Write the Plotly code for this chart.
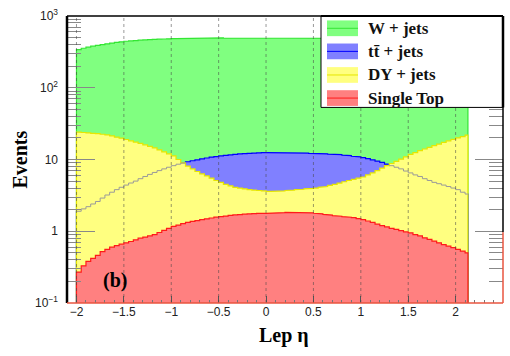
import plotly.graph_objects as go

# ---------------- data ----------------
eta_edges = [round(-2.0 + 0.05 * i, 3) for i in range(83)] + [2.13]

w_jets = [340, 355, 368, 380, 390, 400, 410, 420, 428, 437, 445, 450, 455, 460,
          464, 468, 472, 475, 478, 481, 484, 486, 488, 489, 490, 491, 492, 494,
          494, 493, 496, 494, 495, 497, 496, 495, 497, 496, 494, 496, 497, 495,
          498, 496, 494, 496, 497, 495, 494, 496, 495, 494, 493, 492, 491, 490,
          489, 487, 486, 484, 482, 479, 476, 473, 470, 466, 462, 457, 452, 447,
          442, 434, 426, 417, 408, 398, 388, 378, 368, 356, 345, 337, 330]
ttbar = [1.9, 2.05, 2.2, 2.4, 2.6, 2.9, 3.2, 3.5, 3.8, 4.1, 4.4, 4.7, 5.0, 5.4,
         5.8, 6.2, 6.6, 7.0, 7.4, 7.8, 8.2, 8.6, 8.9, 9.3, 9.6, 9.9, 10.2, 10.5,
         10.8, 11.0, 11.2, 11.4, 11.6, 11.8, 12.0, 12.1, 12.2, 12.3, 12.4, 12.5,
         12.5, 12.6, 12.6, 12.5, 12.5, 12.4, 12.4, 12.3, 12.3, 12.2, 12.2, 12.1,
         12.0, 11.9, 11.8, 11.7, 11.5, 11.3, 11.1, 10.9, 10.6, 10.3, 9.9, 9.5,
         9.1, 8.6, 8.2, 7.8, 7.4, 6.9, 6.5, 6.1, 5.8, 5.4, 5.1, 4.8, 4.6, 4.4,
         4.2, 4.0, 3.8, 3.5, 3.3]
dy_jets = [24, 23.8, 23.5, 23.2, 23, 22.5, 22, 21.3, 20.5, 19.8, 19, 18.2, 17.5,
           16.8, 16, 15.2, 14.5, 13.6, 12.8, 12.0, 11.2, 10.0, 9.0, 8.1, 7.4, 6.8,
           6.3, 5.9, 5.5, 5.1, 4.8, 4.5, 4.3, 4.1, 4.0, 3.9, 3.8, 3.75, 3.7, 3.65,
           3.6, 3.6, 3.6, 3.65, 3.7, 3.75, 3.8, 3.85, 3.9, 3.95, 4.0, 4.1, 4.2,
           4.35, 4.5, 4.7, 4.9, 5.1, 5.3, 5.5, 5.7, 6.1, 6.5, 7.0, 7.6, 8.2, 8.8,
           9.4, 10.1, 10.9, 11.8, 12.5, 13.3, 14.0, 14.8, 15.6, 16.4, 17.3, 18.2,
           19.1, 20.0, 20.9, 21.8]
single_top = [0.27, 0.33, 0.38, 0.42, 0.46, 0.52, 0.56, 0.60, 0.63, 0.66, 0.69,
              0.72, 0.76, 0.80, 0.83, 0.86, 0.90, 0.96, 1.03, 1.10, 1.17, 1.22,
              1.28, 1.33, 1.37, 1.41, 1.45, 1.49, 1.53, 1.57, 1.60, 1.63, 1.66,
              1.69, 1.71, 1.73, 1.75, 1.76, 1.77, 1.78, 1.78, 1.79, 1.80, 1.82,
              1.83, 1.84, 1.84, 1.83, 1.82, 1.80, 1.78, 1.75, 1.72, 1.68, 1.65,
              1.62, 1.60, 1.57, 1.55, 1.50, 1.45, 1.39, 1.33, 1.26, 1.20, 1.15,
              1.10, 1.06, 1.02, 0.98, 0.95, 0.90, 0.86, 0.81, 0.77, 0.73, 0.69,
              0.65, 0.62, 0.59, 0.56, 0.53, 0.50]

x_ticks = [-2, -1.5, -1, -0.5, 0, 0.5, 1, 1.5, 2, 2.5]
x_ticktext = ["\u22122", "\u22121.5", "\u22121", "\u22120.5", "0", "0.5", "1", "1.5", "2", "2.5"]
y_ticks = [0.1, 1, 10, 100, 1000]
y_ticktext = ["10<sup>\u22121</sup>", "1", "10", "10<sup>2</sup>", "10<sup>3</sup>"]
y_minor = [k * 10 ** e for e in range(-1, 3) for k in range(2, 10)]

series = [
    ("W + jets", w_jets, "#80ff80", "#33e633"),
    ("t\u0074\u0304 + jets", ttbar, "#8080ff", "#0000ff"),
    ("DY + jets", dy_jets, "#ffff80", "#e6e600"),
    ("Single Top", single_top, "#ff8080", "#ff1a1a"),
]
FLOOR = 0.01


def step_poly(vals):
    n = min(len(vals), len(eta_edges) - 1)
    xs, ys = [eta_edges[0]], [FLOOR]
    for i in range(n):
        xs += [eta_edges[i], eta_edges[i + 1]]
        ys += [vals[i], vals[i]]
    xs.append(eta_edges[n])
    ys.append(FLOOR)
    return xs, ys


fig = go.Figure()


def add_fill(name, vals, fc, lc):
    xs, ys = step_poly(vals)
    fig.add_trace(go.Scatter(x=xs, y=ys, mode="lines", fill="toself",
                             fillcolor=fc, line=dict(color=lc, width=1.2),
                             name=name, showlegend=False, hoverinfo="skip"))


# draw order: W, ttbar, DY, (ttbar outline where hidden), single top
add_fill(*series[0])
add_fill(*series[1])
add_fill(*series[2])

# ttbar outline visible through DY
gx, gy = [], []
for i, (t, d) in enumerate(zip(ttbar, dy_jets)):
    if i + 1 >= len(eta_edges):
        break
    if d > t:
        gx += [eta_edges[i], eta_edges[i + 1]]
        gy += [t, t]
    else:
        gx.append(None)
        gy.append(None)
fig.add_trace(go.Scatter(x=gx, y=gy, mode="lines", line=dict(color="#9a9a9a", width=1),
                         showlegend=False, hoverinfo="skip", connectgaps=False))

add_fill(*series[3])

# ---------------- layout ----------------
L, R, T, B = 67, 503, 11, 303
W, H = 510, 356


def px(xp):
    return (xp - L) / (R - L)


def py(yp):
    return (B - yp) / (B - T)


shapes = []
# vertical dotted grid above the fills
for xv in x_ticks[:-1]:
    shapes.append(dict(type="line", xref="x", yref="paper", x0=xv, x1=xv, y0=0, y1=1,
                       line=dict(color="rgba(70,70,70,0.55)", width=1, dash="dot"),
                       layer="above"))
# frame
shapes += [
    dict(type="line", xref="paper", yref="paper", x0=0, x1=0, y0=0, y1=1,
         line=dict(color="black", width=2.5), layer="above"),
    dict(type="line", xref="paper", yref="paper", x0=0, x1=1, y0=1, y1=1,
         line=dict(color="black", width=1.5), layer="above"),
    dict(type="line", xref="paper", yref="paper", x0=1, x1=1, y0=py(231), y1=1,
         line=dict(color="black", width=1.5), layer="above"),
    dict(type="line", xref="paper", yref="paper", x0=1, x1=1, y0=0, y1=py(231),
         line=dict(color="#e8553f", width=1.5), layer="above"),
    dict(type="line", xref="paper", yref="paper", x0=0, x1=1, y0=0, y1=0,
         line=dict(color="#e8553f", width=1.5), layer="above"),
]

# legend box
lx0, lx1, ly0, ly1 = px(321), 1.0, py(104), 1.0
shapes.append(dict(type="rect", xref="paper", yref="paper", x0=lx0, x1=lx1, y0=ly0, y1=ly1,
                   fillcolor="white", line=dict(color="black", width=1), layer="above"))
shapes.append(dict(type="line", xref="paper", yref="paper", x0=lx0, x1=lx1, y0=ly1, y1=ly1,
                   line=dict(color="black", width=2), layer="above"))
shapes.append(dict(type="line", xref="paper", yref="paper", x0=lx1, x1=lx1, y0=ly0, y1=ly1,
                   line=dict(color="black", width=2.5), layer="above"))

annotations = []
row_y = [23.5, 47, 71, 94.5]
for (name, vals, fc, lc), ry in zip(series, row_y):
    shapes.append(dict(type="rect", xref="paper", yref="paper", x0=px(327), x1=px(358),
                       y0=py(ry + 8), y1=py(ry - 8), fillcolor=fc,
                       line=dict(width=0), layer="above"))
    shapes.append(dict(type="line", xref="paper", yref="paper", x0=px(327), x1=px(358),
                       y0=py(ry), y1=py(ry), line=dict(color=lc, width=1), layer="above"))
    annotations.append(dict(xref="paper", yref="paper", x=px(366), y=py(ry), text="<b>" + name + "</b>",
                            showarrow=False, xanchor="left", yanchor="middle",
                            font=dict(family="Liberation Serif", size=17, color="#111")))

annotations += [
    dict(xref="paper", yref="paper", x=px(115), y=py(280), text="<b>(b)</b>", showarrow=False,
         xanchor="center", yanchor="middle",
         font=dict(family="Liberation Serif", size=20, color="black")),
    dict(xref="paper", yref="paper", x=px(284), y=py(336), text="<b>Lep \u03b7</b>", showarrow=False,
         xanchor="center", yanchor="middle",
         font=dict(family="Liberation Serif", size=20, color="black")),
    dict(xref="paper", yref="paper", x=px(19), y=py(157), text="<b>Events</b>", showarrow=False,
         textangle=-90, xanchor="center", yanchor="middle",
         font=dict(family="Liberation Serif", size=20, color="black")),
]

fig.update_layout(
    width=W, height=H,
    margin=dict(l=L, r=W - R, t=T, b=H - B),
    paper_bgcolor="white", plot_bgcolor="white",
    showlegend=False,
    shapes=shapes, annotations=annotations,
    xaxis=dict(range=[-2.1, 2.5], tickmode="array", tickvals=x_ticks, ticktext=x_ticktext,
               ticks="inside", ticklen=7, tickcolor="#555", showgrid=False, zeroline=False,
               showline=False,
               minor=dict(ticks="inside", ticklen=3, dtick=0.1, tick0=0, tickcolor="#777",
                          showgrid=False),
               tickfont=dict(family="Liberation Sans", size=12, color="#222")),
    yaxis=dict(type="log", range=[-1, 3], tickmode="array", tickvals=y_ticks, ticktext=y_ticktext,
               ticks="inside", ticklen=28, tickcolor="#888", showgrid=False, zeroline=False,
               showline=False, mirror="ticks", ticklabelstandoff=8,
               minor=dict(ticks="inside", ticklen=14, tickmode="array", tickvals=y_minor,
                          tickcolor="#888", showgrid=False),
               tickfont=dict(family="Liberation Sans", size=12, color="#222")),
)

fig.write_html("out.html")
